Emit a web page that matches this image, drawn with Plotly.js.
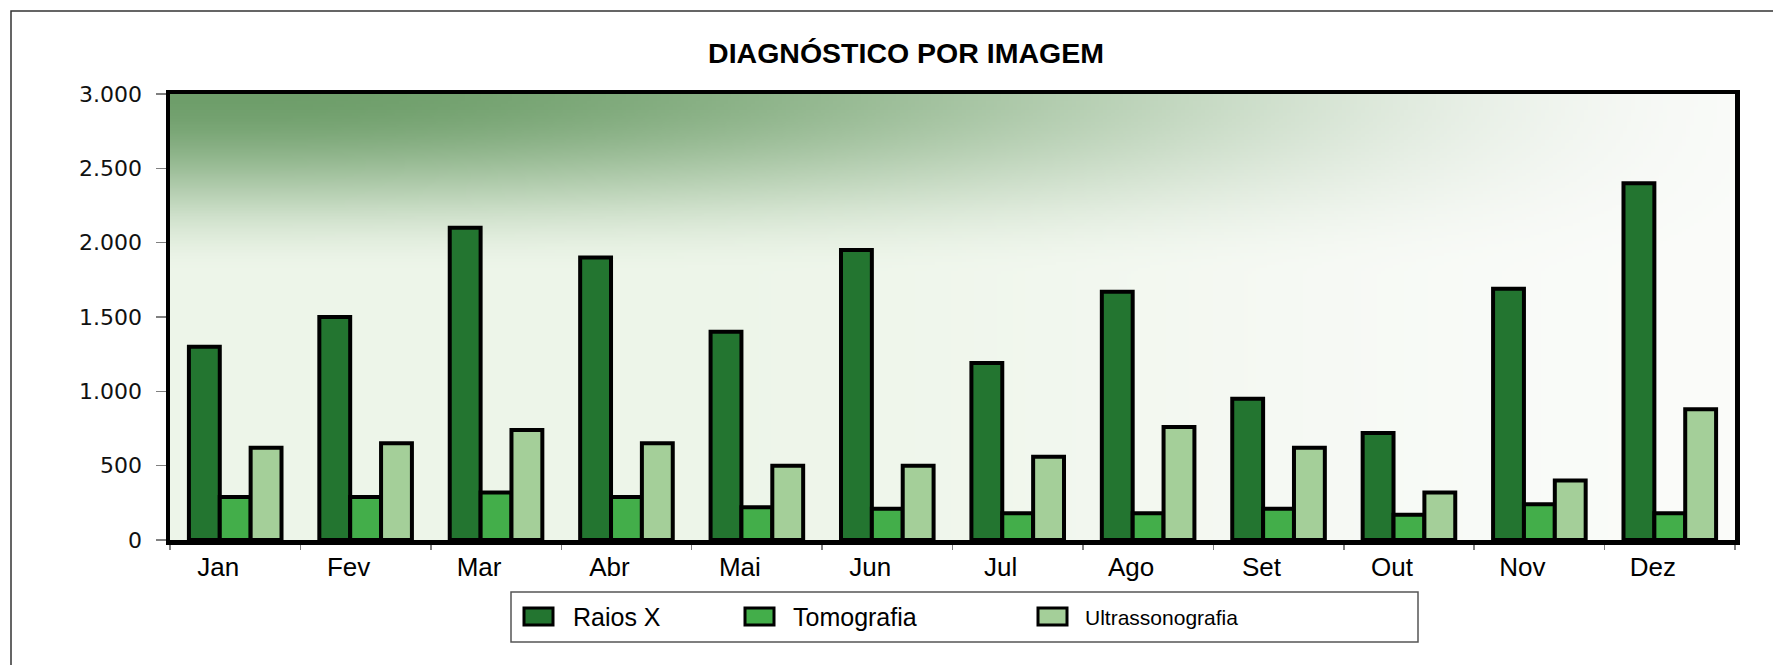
<!DOCTYPE html>
<html>
<head>
<meta charset="utf-8">
<script src="https://cdn.plot.ly/plotly-3.0.1.min.js"></script>
<style>
  html, body { margin: 0; padding: 0; background: #ffffff; }
  #chart { width: 1773px; height: 665px; }
</style>
</head>
<body>
<div id="chart"></div>
<script>
// ---- Data ----
const months = ['Jan', 'Fev', 'Mar', 'Abr', 'Mai', 'Jun', 'Jul', 'Ago', 'Set', 'Out', 'Nov', 'Dez'];
const raiosX = [1300, 1500, 2100, 1900, 1400, 1950, 1190, 1670, 950, 720, 1690, 2400];
const tomografia = [290, 290, 320, 290, 220, 210, 180, 180, 210, 170, 240, 180];
const ultrassonografia = [620, 650, 740, 650, 500, 500, 560, 760, 620, 320, 400, 880];
const seriesNames = ['Raios X', 'Tomografia', 'Ultrassonografia'];
const yTickVals = [0, 500, 1000, 1500, 2000, 2500, 3000];
const chartTitle = 'DIAGNÓSTICO POR IMAGEM';

// ---- Layout geometry (pixels) ----
const W = 1773, H = 665;
const M = { l: 170, r: 38, t: 94, b: 125 };
const PW = W - M.l - M.r, PH = H - M.t - M.b;
const px2x = p => (p - M.l) / PW;
const py2y = p => (H - M.b - p) / PH;

const colors = ['#237530', '#43AE4A', '#A4CF99'];

// ---- Gradient background for plot area ----
function gradientURL() {
  const cw = 400, ch = 150;
  const c = document.createElement('canvas');
  c.width = cw; c.height = ch;
  const ctx = c.getContext('2d');
  const img = ctx.createImageData(cw, ch);
  const dark = [110, 158, 106];
  const light = [237, 245, 233];
  const white = [250, 251, 249];
  const ss = (a, b, t) => { let x = Math.min(1, Math.max(0, (t - a) / (b - a))); return x * x * (3 - 2 * x); };
  for (let j = 0; j < ch; j++) {
    const v = j / (ch - 1);
    const fv = 1 - ss(0, 0.4, v);
    for (let i = 0; i < cw; i++) {
      const u = i / (cw - 1);
      const fh = 1 - ss(0.05, 1.05, u);
      const wb = ss(0.3, 1.0, u);
      const k = fv * fh;
      const idx = (j * cw + i) * 4;
      for (let ch2 = 0; ch2 < 3; ch2++) {
        const base = light[ch2] + (white[ch2] - light[ch2]) * wb;
        img.data[idx + ch2] = Math.round(base + (dark[ch2] - base) * k);
      }
      img.data[idx + 3] = 255;
    }
  }
  ctx.putImageData(img, 0, 0);
  return c.toDataURL('image/png');
}

const traces = [raiosX, tomografia, ultrassonografia].map((vals, i) => ({
  type: 'bar',
  x: months,
  y: vals,
  name: seriesNames[i],
  marker: { color: colors[i], line: { color: '#000000', width: 4 } },
  showlegend: false,
  hoverinfo: 'x+y+name'
}));

// ---- Manual legend (box, swatches, labels) ----
const legendBox = { x0: 511, x1: 1418, y0: 592, y1: 642 };
const swatchX = [524, 745, 1038];
const labelX = [571, 791, 1083];
const labelSize = [25, 25, 21];
const swatchW = 29, swatchY0 = 608, swatchY1 = 625;

const shapes = [
  // outer chart frame
  { type: 'rect', xref: 'paper', yref: 'paper',
    x0: px2x(11), x1: px2x(W + 20), y0: py2y(H + 20), y1: py2y(11),
    line: { color: '#333333', width: 1.5 }, fillcolor: 'rgba(0,0,0,0)', layer: 'below' },
  // legend box
  { type: 'rect', xref: 'paper', yref: 'paper',
    x0: px2x(legendBox.x0), x1: px2x(legendBox.x1), y0: py2y(legendBox.y1), y1: py2y(legendBox.y0),
    line: { color: '#555555', width: 1.5 }, fillcolor: '#ffffff', layer: 'above' }
];
seriesNames.forEach((n, i) => {
  shapes.push({ type: 'rect', xref: 'paper', yref: 'paper',
    x0: px2x(swatchX[i]), x1: px2x(swatchX[i] + swatchW), y0: py2y(swatchY1), y1: py2y(swatchY0),
    line: { color: '#000000', width: 3 }, fillcolor: colors[i], layer: 'above' });
});

const annotations = seriesNames.map((n, i) => ({
  xref: 'paper', yref: 'paper', x: px2x(labelX[i]), y: py2y(617),
  xanchor: 'left', yanchor: 'middle', showarrow: false, text: n,
  font: { family: 'Liberation Sans, Arial, sans-serif', size: labelSize[i], color: '#000000' }
}));

const layout = {
  width: W, height: H,
  margin: M,
  paper_bgcolor: '#ffffff',
  plot_bgcolor: 'rgba(0,0,0,0)',
  separators: ',.',
  title: {
    text: chartTitle,
    x: 906 / W, xref: 'container', xanchor: 'center',
    y: 1 - 53 / H, yref: 'container', yanchor: 'middle',
    font: { family: 'Liberation Sans, Arial, sans-serif', size: 28.5, weight: 'bold', color: '#000000' }
  },
  barmode: 'group',
  bargap: 0.29,
  bargroupgap: 0,
  xaxis: {
    type: 'category',
    showgrid: false,
    showline: true, linecolor: '#000000', linewidth: 4.5, mirror: true,
    ticks: 'outside', tickson: 'boundaries', ticklen: 5, tickwidth: 1.5, tickcolor: '#808080',
    tickfont: { family: 'Liberation Sans, Arial, sans-serif', size: 26, color: '#000000' },
    ticklabelstandoff: 0,
    ticklabelshift: -17,
    zeroline: false, fixedrange: true
  },
  yaxis: {
    range: [0, 3000],
    tickvals: yTickVals,
    tickformat: ',d',
    showgrid: false,
    showline: true, linecolor: '#000000', linewidth: 4.5, mirror: true,
    ticks: 'outside', ticklen: 10, tickwidth: 1.5, tickcolor: '#808080',
    tickfont: { family: 'DejaVu Sans, Verdana, sans-serif', size: 22, color: '#111111' },
    ticklabelstandoff: 9,
    zeroline: false, fixedrange: true
  },
  images: [{
    source: gradientURL(), xref: 'paper', yref: 'paper',
    x: 0, y: 1, sizex: 1, sizey: 1, xanchor: 'left', yanchor: 'top',
    sizing: 'stretch', layer: 'below'
  }],
  shapes: shapes,
  annotations: annotations,
  showlegend: false,
  hovermode: false
};

Plotly.newPlot('chart', traces, layout, { displayModeBar: false, staticPlot: true });
</script>
</body>
</html>
